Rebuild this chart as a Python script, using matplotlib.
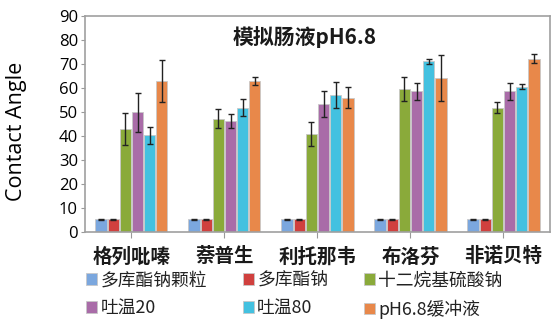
import numpy as np
import matplotlib
matplotlib.use("Agg")
import matplotlib.pyplot as plt

plt.rcParams["font.family"] = ["Noto Sans CJK SC", "DejaVu Sans"]

drugs = ["格列吡嗪", "萘普生", "利托那韦", "布洛芬", "非诺贝特"]
media = ["多库酯钠颗粒", "多库酯钠", "十二烷基硫酸钠", "吐温20", "吐温80", "pH6.8缓冲液"]
colors = ["#7ba7de", "#d0403e", "#8aaa3a", "#a96ca8", "#43c1e0", "#e8884a"]

# rows = media, columns = drugs
angle = [
    [5.2, 5.2, 5.2, 5.2, 5.2],
    [5.2, 5.2, 5.2, 5.2, 5.2],
    [42.8, 47.2, 40.6, 59.6, 51.8],
    [49.8, 46.3, 53.3, 58.5, 58.5],
    [40.3, 51.8, 57.0, 71.1, 60.4],
    [63.0, 63.0, 55.9, 64.1, 72.2],
]
err = [
    [0.2, 0.2, 0.2, 0.2, 0.2],
    [0.2, 0.2, 0.2, 0.2, 0.2],
    [6.8, 3.8, 5.0, 4.9, 2.3],
    [8.2, 3.0, 5.3, 3.5, 3.6],
    [3.5, 3.5, 5.6, 1.0, 1.0],
    [8.7, 1.7, 4.3, 9.6, 2.0],
]

fig = plt.figure(figsize=(5.55, 3.29), dpi=100)
ax = fig.add_axes([0.153, 0.295, 0.838, 0.657])

x = np.arange(len(drugs))
pitch = 0.131
width = 0.12
handles = []
for i, name in enumerate(media):
    pos = x + (i - 2.5) * pitch
    b = ax.bar(pos, angle[i], width, color=colors[i], edgecolor="#c8c8c8",
               linewidth=0.6, label=name, zorder=2)
    handles.append(b)
    ax.errorbar(pos, angle[i], yerr=err[i], fmt="none", ecolor="#222222",
                elinewidth=1.0, capsize=2.2, capthick=1.0, zorder=3)

ax.set_xlim(-0.5, 4.5)
ax.set_ylim(0, 90)
ax.set_yticks(range(0, 91, 10))
ax.set_xticks(x)
ax.set_xticklabels(drugs, fontsize=14, fontweight="bold", color="#1a1a1a")
ax.tick_params(axis="y", labelsize=12, length=3, color="#999999", pad=2)
ax.tick_params(axis="x", length=4, color="#999999", pad=7)
for s in ax.spines.values():
    s.set_color("#a0a0a0")
    s.set_linewidth(1.2)
for lab in ax.get_yticklabels():
    lab.set_family(["Open Sans", "DejaVu Sans"])
ax.set_ylabel("Contact Angle", fontsize=15.5, family=["Open Sans", "DejaVu Sans"])
ax.yaxis.set_label_coords(-0.125, 0.465)

ax.text(0.472, 0.9, "模拟肠液pH6.8", transform=ax.transAxes, ha="center", va="center",
        fontsize=15, fontweight="bold", color="#1a1a1a")

# legend filled row by row
order = [0, 3, 1, 4, 2, 5]
leg = fig.legend([handles[k] for k in order], [media[k] for k in order],
                 loc="upper left", bbox_to_anchor=(0.155, 0.175), ncol=3, frameon=False,
                 fontsize=12.8, handlelength=0.62, handleheight=0.62, handletextpad=0.2,
                 columnspacing=2.0, labelspacing=0.55, borderpad=0, borderaxespad=0)
for t in leg.get_texts():
    t.set_color("#222222")

fig.savefig("out.png", dpi=100)
